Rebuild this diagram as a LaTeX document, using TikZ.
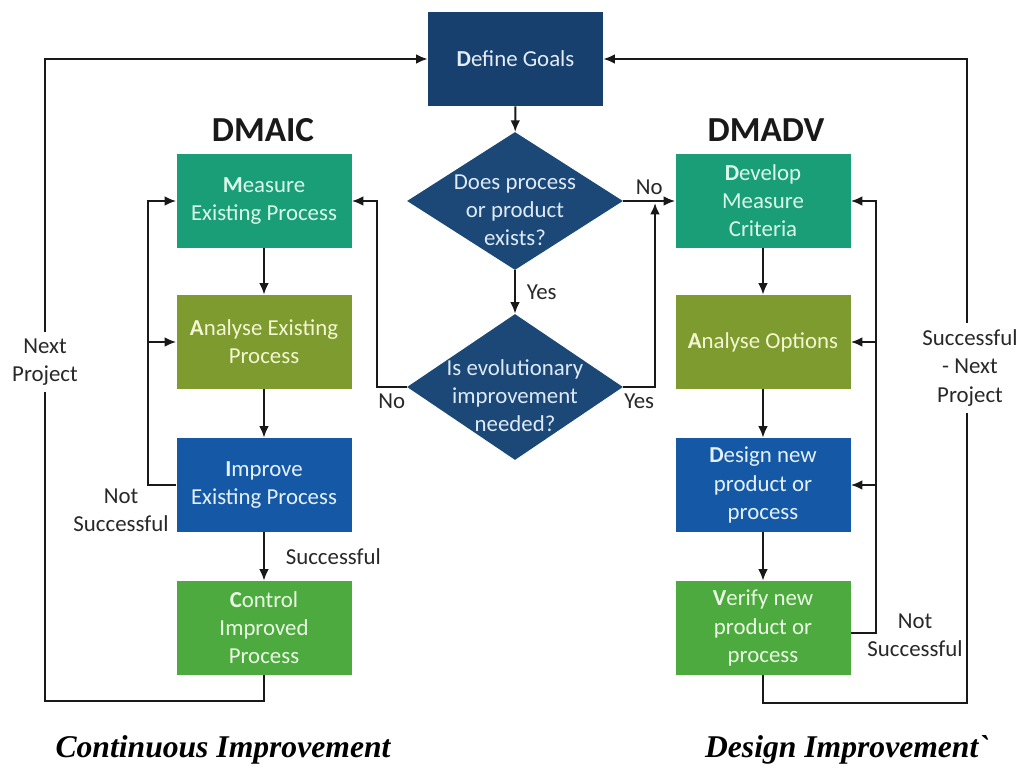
\documentclass[tikz,border=0pt]{standalone}
\usepackage{fontspec}
\setmainfont{Carlito}
\newfontfamily\captionfont{Liberation Serif}
\usepackage{tikz}
\usetikzlibrary{shapes.geometric}
\usetikzlibrary{arrows.meta}
\pgfdeclarelayer{edgelayer}
\pgfdeclarelayer{nodelayer}
\pgfsetlayers{edgelayer,nodelayer,main}
\definecolor{goalfill}{RGB}{23,64,111}
\definecolor{goaltext}{RGB}{228,236,246}
\definecolor{decfill}{RGB}{27,72,119}
\definecolor{dectext}{RGB}{222,234,246}
\definecolor{tealfill}{RGB}{26,158,120}
\definecolor{tealtext}{RGB}{218,248,234}
\definecolor{olivefill}{RGB}{125,155,47}
\definecolor{olivetext}{RGB}{244,246,210}
\definecolor{bluefill}{RGB}{21,89,166}
\definecolor{bluetext}{RGB}{228,240,252}
\definecolor{greenfill}{RGB}{77,170,62}
\definecolor{greentext}{RGB}{236,248,230}
\definecolor{linecol}{RGB}{25,25,25}
\definecolor{labelcol}{RGB}{40,40,40}
\newcommand{\diatext}[1]{\smash{\makebox[0pt]{\raisebox{-0.33cm}{\begin{tabular}{@{}c@{}}#1\end{tabular}}}}}
\tikzstyle{phase}=[rectangle,minimum width=3.5cm,minimum height=1.88cm,inner sep=2pt,align=center,font=\fontsize{13}{16}\selectfont]
\tikzstyle{goal_box}=[phase,fill=goalfill,text=goaltext]
\tikzstyle{teal_box}=[phase,fill=tealfill,text=tealtext]
\tikzstyle{olive_box}=[phase,fill=olivefill,text=olivetext]
\tikzstyle{blue_box}=[phase,fill=bluefill,text=bluetext]
\tikzstyle{green_box}=[phase,fill=greenfill,text=greentext]
\tikzstyle{decision}=[diamond,fill=decfill,text=dectext,minimum width=4.32cm,inner sep=0pt,font=\fontsize{13}{16}\selectfont]
\tikzstyle{heading}=[text=linecol,font=\fontsize{20}{24}\selectfont\bfseries]
\tikzstyle{caption}=[text=black,anchor=base,font=\captionfont\bfseries\itshape\fontsize{18}{22}\selectfont]
\tikzstyle{edge_label}=[text=labelcol,align=center,font=\fontsize{13}{16}\selectfont]
\tikzstyle{gap_label}=[edge_label,fill=white,inner sep=4pt]
\tikzstyle{transition}=[-{Latex[length=6.5pt,width=5.5pt]},draw=linecol,line width=1.1pt]

\begin{document}
\begin{tikzpicture}
	\begin{pgfonlayer}{nodelayer}
		\node [style=goal_box] (0) at (10.31, -1.18) {{\bfseries D}efine Goals};
		\node [style=heading] (1) at (5.26, -2.6) {DMAIC};
		\node [style=heading] (2) at (15.32, -2.6) {DMADV};
		\node [style=teal_box] (3) at (5.28, -4.02) {{\bfseries M}easure\\Existing Process};
		\node [style=olive_box] (4) at (5.28, -6.84) {{\bfseries A}nalyse Existing\\Process};
		\node [style=blue_box] (5) at (5.28, -9.7) {{\bfseries I}mprove\\Existing Process};
		\node [style=green_box] (6) at (5.28, -12.56) {{\bfseries C}ontrol\\Improved\\Process};
		\node [style=decision, minimum height=2.76cm] (7) at (10.3, -4.02) {\diatext{Does process\\or product\\exists?}};
		\node [style=decision, minimum height=2.92cm] (8) at (10.3, -7.74) {\diatext{Is evolutionary\\improvement\\needed?}};
		\node [style=teal_box] (9) at (15.26, -4.02) {{\bfseries D}evelop\\Measure\\Criteria};
		\node [style=olive_box] (10) at (15.26, -6.84) {{\bfseries A}nalyse Options};
		\node [style=blue_box] (11) at (15.26, -9.7) {{\bfseries D}esign new\\product or\\process};
		\node [style=green_box] (12) at (15.26, -12.56) {{\bfseries V}erify new\\product or\\process};
		\node [style=caption] (13) at (4.46, -15.14) {Continuous Improvement};
		\node [style=caption] (14) at (16.94, -15.14) {Design Improvement`};
		\node [style=gap_label] (15) at (0.9, -7.24) {Next\\Project};
		\node [style=gap_label] (16) at (19.4, -7.36) {Successful\\- Next\\Project};
		\node [style=edge_label] (17) at (2.42, -10.2) {Not\\Successful};
		\node [style=edge_label] (18) at (18.3, -12.7) {Not\\Successful};
		\coordinate (19) at (13.1, -4.06);
		\coordinate (20) at (7.54, -4.02);
		\coordinate (21) at (2.96, -4.02);
		\coordinate (22) at (2.96, -6.84);
		\coordinate (23) at (0.9, -14.02);
		\coordinate (24) at (19.34, -14.06);
		\coordinate (25) at (17.52, -4.02);
		\coordinate (26) at (17.52, -6.84);
		\coordinate (27) at (17.52, -9.7);
	\end{pgfonlayer}
	\begin{pgfonlayer}{edgelayer}
		\path [use as bounding box, fill=white] (0, 0) rectangle (20.66, -15.2);
		\draw [style=transition] (0) to (7);
		\draw [style=transition] (7) to node[style=edge_label, right, xshift=0.1cm] (28) {Yes} (8);
		\draw [style=transition] (7.east) to node[style=edge_label, above] (29) {No} (9.west);
		\draw [style=transition] (8.east) -| node[style=edge_label, pos=0.25, below] (30) {Yes} (19);
		\draw [style=transition] (8.west) -| node[style=edge_label, pos=0.25, below] (31) {No} (20) -- (3.east);
		\draw [style=transition] (3) to (4);
		\draw [style=transition] (4) to (5);
		\draw [style=transition] (5) to node[style=edge_label, right, xshift=0.3cm] (32) {Successful} (6);
		\draw [style=transition] (5.west) -| (21) -- (3.west);
		\draw [style=transition] (22) to (4.west);
		\draw [style=transition] (6.south) |- (23) |- (0.west);
		\draw [style=transition] (9) to (10);
		\draw [style=transition] (10) to (11);
		\draw [style=transition] (11) to (12);
		\draw [style=transition] ([yshift=-0.1cm]12.east) -| (25) -- (9.east);
		\draw [style=transition] (26) to (10.east);
		\draw [style=transition] (27) to (11.east);
		\draw [style=transition] (12.south) |- (24) |- (0.east);
	\end{pgfonlayer}
\end{tikzpicture}
\end{document}
